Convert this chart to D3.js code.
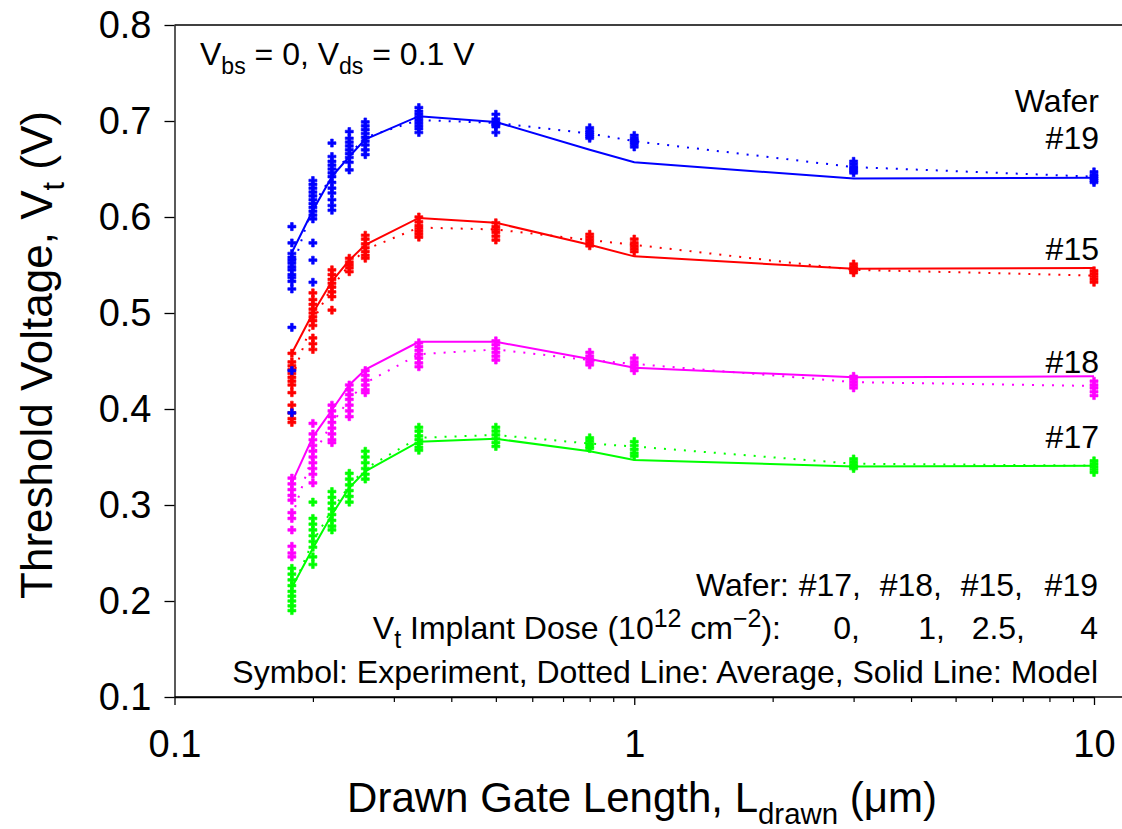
<!DOCTYPE html>
<html><head><meta charset="utf-8">
<script src="https://cdn.jsdelivr.net/npm/d3@7"></script>
<style>
html,body{margin:0;padding:0;background:#fff;}
svg{display:block;font-family:"Liberation Sans",Arial,sans-serif;}
</style></head>
<body>
<svg id="chart" width="1122" height="829"></svg>
<script>
// ---------- data ----------
const gateLengths = [0.18, 0.2, 0.22, 0.24, 0.26, 0.34, 0.5, 0.8, 1, 3, 10];
const yTicks = [0.1, 0.2, 0.3, 0.4, 0.5, 0.6, 0.7, 0.8];
const xMajorTicks = [0.1, 1, 10];
const xMinorTicks = [0.2,0.3,0.4,0.5,0.6,0.7,0.8,0.9,2,3,4,5,6,7,8,9];
const wafers = ["#17", "#18", "#15", "#19"];
const doses = ["0,", "1,", "2.5,", "4"];

// Wafer #17 (green)
const exp17 = [
  [0.234,0.228,0.222,0.216,0.210,0.205,0.200,0.195,0.190],
  [0.303,0.286,0.280,0.274,0.268,0.262,0.256,0.246,0.238],
  [0.314,0.308,0.302,0.296,0.290,0.284,0.278,0.274],
  [0.333,0.327,0.321,0.315,0.309,0.303],
  [0.356,0.350,0.344,0.338,0.332,0.327],
  [0.381,0.377,0.372,0.368,0.364,0.360,0.357],
  [0.381,0.377,0.373,0.369,0.365,0.361],
  [0.370,0.367,0.364,0.361,0.359],
  [0.366,0.362,0.358,0.354,0.351],
  [0.348,0.345,0.342,0.340,0.338],
  [0.346,0.343,0.340,0.337,0.334]
];
const avg17 = [0.212,0.262,0.295,0.320,0.338,0.370,0.373,0.364,0.361,0.343,0.341];
const model17 = [0.214,0.255,0.290,0.318,0.335,0.366,0.369,0.356,0.347,0.340,0.341];

// Wafer #18 (magenta)
const exp18 = [
  [0.328,0.322,0.316,0.310,0.305,0.292,0.286,0.274,0.257,0.250,0.246],
  [0.385,0.374,0.368,0.362,0.356,0.350,0.344,0.338,0.332,0.323],
  [0.404,0.398,0.392,0.386,0.380,0.374,0.368,0.365],
  [0.425,0.420,0.415,0.410,0.404,0.398,0.392],
  [0.440,0.435,0.430,0.425,0.420,0.417],
  [0.469,0.465,0.461,0.457,0.453,0.448,0.444],
  [0.471,0.467,0.463,0.459,0.455,0.451],
  [0.459,0.455,0.452,0.449,0.446],
  [0.453,0.449,0.446,0.443,0.440],
  [0.434,0.431,0.428,0.425,0.422],
  [0.429,0.425,0.422,0.418,0.414]
];
const avg18 = [0.288,0.352,0.385,0.410,0.427,0.457,0.462,0.451,0.447,0.428,0.424];
const model18 = [0.323,0.371,0.399,0.425,0.441,0.470,0.470,0.452,0.443,0.433,0.434];

// Wafer #15 (red)
const exp15 = [
  [0.458,0.449,0.445,0.441,0.437,0.433,0.429,0.425,0.417,0.404,0.396,0.390,0.386],
  [0.521,0.514,0.509,0.504,0.500,0.496,0.492,0.487,0.474,0.468,0.462],
  [0.545,0.540,0.535,0.531,0.527,0.522,0.517,0.503],
  [0.557,0.553,0.550,0.547,0.543],
  [0.581,0.577,0.572,0.568,0.564,0.560,0.557],
  [0.600,0.595,0.591,0.588,0.585,0.582,0.579],
  [0.594,0.590,0.587,0.584,0.580,0.576],
  [0.582,0.579,0.576,0.573,0.570],
  [0.577,0.573,0.570,0.567,0.564],
  [0.551,0.548,0.546,0.544,0.542],
  [0.544,0.541,0.538,0.535,0.532]
];
const avg15 = [0.432,0.492,0.527,0.550,0.566,0.589,0.587,0.576,0.571,0.545,0.539];
const model15 = [0.458,0.500,0.533,0.555,0.571,0.599,0.594,0.571,0.559,0.546,0.547];

// Wafer #19 (blue)
const exp19 = [
  [0.590,0.573,0.562,0.558,0.555,0.552,0.548,0.545,0.540,0.537,0.533,0.525,0.485,0.440,0.396],
  [0.638,0.634,0.630,0.626,0.622,0.618,0.614,0.610,0.606,0.602,0.598,0.573,0.555,0.532],
  [0.677,0.663,0.658,0.654,0.650,0.646,0.642,0.636,0.630,0.625,0.618,0.612,0.607],
  [0.689,0.682,0.678,0.674,0.670,0.666,0.662,0.657,0.649],
  [0.699,0.695,0.691,0.687,0.683,0.679,0.675,0.670,0.665],
  [0.714,0.710,0.707,0.704,0.701,0.698,0.695,0.692,0.688],
  [0.707,0.702,0.699,0.697,0.696,0.694,0.688],
  [0.693,0.690,0.688,0.686,0.684,0.682],
  [0.685,0.682,0.680,0.678,0.676,0.673],
  [0.658,0.655,0.652,0.650,0.648,0.646],
  [0.647,0.644,0.642,0.640,0.638,0.636]
];
const avg19 = [0.545,0.612,0.643,0.665,0.683,0.701,0.698,0.687,0.679,0.652,0.642];
const model19 = [0.563,0.607,0.642,0.663,0.681,0.705,0.699,0.670,0.657,0.640,0.641];

const seriesNames = ["#17","#18","#15","#19"];
const seriesColors = ["#00ff00","#ff00ff","#ff0000","#0000ff"];
const seriesExp = [exp17, exp18, exp15, exp19];
const seriesAvg = [avg17, avg18, avg15, avg19];
const seriesModel = [model17, model18, model15, model19];

(function draw() {
// ---------- layout ----------
const W = 1122, H = 829;
const plotLeft = 174.5, plotTop = 25, plotBottom = 697, rightEdge = 1122;
const x = d3.scaleLog().domain([0.1, 10]).range([plotLeft, 1094]);
const y = d3.scaleLinear().domain([0.1, 0.8]).range([plotBottom, plotTop]);
const F = "Liberation Sans, Arial, sans-serif";

const svg = d3.select("#chart");
svg.append("rect").attr("width", W).attr("height", H).attr("fill", "#fff");

svg.append("line").attr("x1", plotLeft).attr("x2", rightEdge).attr("y1", plotTop).attr("y2", plotTop)
  .attr("stroke", "#000").attr("stroke-width", 1.3);

// y axis
const yAxis = svg.append("g").attr("transform", `translate(${plotLeft},0)`)
  .call(d3.axisLeft(y).tickValues(yTicks).tickSize(10).tickSizeOuter(0).tickPadding(13)
        .tickFormat(d3.format(".1f")));
yAxis.selectAll("path,line").attr("stroke", "#000").attr("stroke-width", 1.3);
yAxis.selectAll("text").attr("font-size", 38).attr("fill", "#000").attr("font-family", F);

// x axis
const xAxis = svg.append("g").attr("transform", `translate(0,${plotBottom})`)
  .call(d3.axisBottom(x).tickValues(xMajorTicks).tickSize(8).tickSizeOuter(0)
        .tickFormat(d => d3.format("~g")(d)));
xAxis.selectAll("path,line").attr("stroke", "#000").attr("stroke-width", 1.3);
xAxis.selectAll("text").attr("font-size", 38).attr("fill", "#000").attr("dy", 0).attr("y", 60)
  .attr("font-family", F);
const xMinor = svg.append("g").attr("transform", `translate(0,${plotBottom})`)
  .call(d3.axisBottom(x).tickValues(xMinorTicks).tickSize(5).tickSizeOuter(0).tickFormat(""));
xMinor.select("path").remove();
xMinor.selectAll("line").attr("stroke", "#000").attr("stroke-width", 1.2);
svg.append("line").attr("x1", plotLeft).attr("x2", rightEdge).attr("y1", plotBottom).attr("y2", plotBottom)
  .attr("stroke", "#000").attr("stroke-width", 1.3);

// ---------- data marks ----------
const plot = svg.append("g");
const cross = d3.symbol().type(d3.symbolCross).size(36);
const lineGen = d3.line().x((d, i) => x(gateLengths[i])).y(d => y(d));

seriesNames.forEach((name, s) => {
  const col = seriesColors[s];
  const g = plot.append("g");
  const pts = [];
  seriesExp[s].forEach((vals, i) => vals.forEach(v => pts.push([gateLengths[i], v])));
  g.selectAll("path.pt").data(pts).join("path").attr("class", "pt")
    .attr("d", cross)
    .attr("transform", d => `translate(${x(d[0])},${y(d[1])})`)
    .attr("fill", col).attr("stroke", col).attr("stroke-width", 0.6);
  g.append("path").attr("d", lineGen(seriesAvg[s]))
    .attr("fill", "none").attr("stroke", col).attr("stroke-width", 2)
    .attr("stroke-dasharray", "2,8");
  g.append("path").attr("d", lineGen(seriesModel[s]))
    .attr("fill", "none").attr("stroke", col).attr("stroke-width", 2);
});

// ---------- text ----------
function richText(parent, xPos, yPos, parts, size, anchor, scale) {
  const k = scale || 0.72;
  const t = parent.append("text").attr("x", xPos).attr("y", yPos)
    .attr("font-size", size).attr("font-family", F).attr("fill", "#000")
    .attr("text-anchor", anchor || "start");
  parts.forEach(p => {
    const sp = t.append("tspan").text(p.t);
    if (p.sub) sp.attr("font-size", size * k).attr("baseline-shift", -size * 0.28);
    if (p.sup) sp.attr("font-size", size * k).attr("baseline-shift", size * 0.38);
  });
  return t;
}

richText(svg, 200, 65, [{t:"V"},{t:"bs",sub:1},{t:" = 0, V"},{t:"ds",sub:1},{t:" = 0.1 V"}], 32);

richText(svg, 1099, 112, [{t:"Wafer"}], 32, "end");
const labelY = {"#19": 149, "#15": 260, "#18": 373, "#17": 448};
seriesNames.forEach(n => richText(svg, 1099, labelY[n], [{t:n}], 32, "end"));

richText(svg, 789, 596, [{t:"Wafer:"}], 32, "end");
const colEnds = [861, 942, 1023, 1098];
wafers.forEach((w, i) => richText(svg, colEnds[i], 596, [{t: w + (i < 3 ? "," : "")}], 32, "end"));
richText(svg, 781, 639, [{t:"V"},{t:"t",sub:1},{t:" Implant Dose (10"},{t:"12",sup:1},{t:" cm"},{t:"\u22122",sup:1},{t:"):"}], 32, "end", 0.78);
const doseEnds = [860, 945, 1025, 1098];
doses.forEach((d, i) => richText(svg, doseEnds[i], 639, [{t:d}], 32, "end"));
richText(svg, 1098, 683, [{t:"Symbol: Experiment, Dotted Line: Average, Solid Line: Model"}], 32, "end");

richText(svg, 642, 812, [{t:"Drawn Gate Length, L"},{t:"drawn",sub:1},{t:" (\u03bcm)"}], 42, "middle", 0.7);
const yt = svg.append("g").attr("transform", "translate(52,355) rotate(-90)");
richText(yt, 0, 0, [{t:"Threshold Voltage, V"},{t:"t",sub:1},{t:" (V)"}], 44, "middle", 0.7);
})();
</script>
</body></html>
